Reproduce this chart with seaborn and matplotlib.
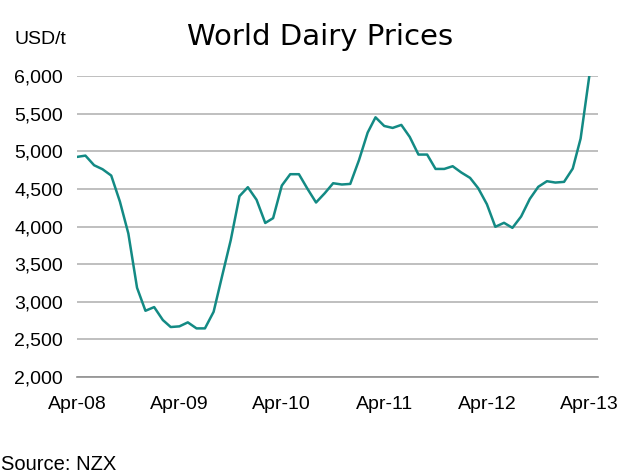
import pandas as pd
import matplotlib
matplotlib.use("Agg")
import matplotlib.pyplot as plt
import matplotlib.dates as mdates
import seaborn as sns

# Monthly prices, Apr-08 .. Apr-13 (USD/t)
months = pd.date_range("2008-04-01", periods=61, freq="MS")
prices = [
    4925, 4942, 4814, 4761, 4677, 4330, 3907, 3186, 2880, 2929, 2757, 2664,
    2673, 2726, 2646, 2646, 2867, 3354, 3819, 4403, 4522, 4355, 4047, 4111,
    4544, 4695, 4695, 4504, 4319, 4442, 4575, 4558, 4566, 4881, 5248, 5451,
    5336, 5310, 5350, 5190, 4956, 4956, 4765, 4765, 4801, 4717, 4646, 4509,
    4296, 3996, 4049, 3982, 4133, 4367, 4527, 4602, 4584, 4593, 4770, 5168,
    6000,
]
tick_years = [2008, 2009, 2010, 2011, 2012, 2013]

df = pd.DataFrame({"month": months, "price": prices})

sns.set_style("white")
plt.rcParams["font.family"] = ["Liberation Sans", "DejaVu Sans"]
plt.rcParams["text.color"] = "black"
plt.rcParams["xtick.color"] = "black"
plt.rcParams["ytick.color"] = "black"

fig = plt.figure(figsize=(6.2, 4.72), dpi=100)
ax = fig.add_axes([77 / 620, 1 - 377 / 472, (598 - 77) / 620, (377 - 76) / 472])

sns.lineplot(data=df, x="month", y="price", ax=ax, color="#138a84", linewidth=1.8)

ax.set_ylim(2000, 6000)
ax.set_yticks(range(2000, 6001, 500))
ax.yaxis.set_major_formatter(matplotlib.ticker.FuncFormatter(lambda v, p: f"{int(v):,}"))
ax.grid(axis="y", color="#b4b4b4", linewidth=1.2)
ax.set_axisbelow(True)

ticks = [pd.Timestamp(f"{y}-04-01") for y in tick_years]
ax.set_xticks(ticks)
ax.xaxis.set_major_formatter(mdates.DateFormatter("%b-%y"))
ax.set_xlim(pd.Timestamp("2008-04-01"), pd.Timestamp("2013-05-02"))

for s in ["top", "right", "left"]:
    ax.spines[s].set_visible(False)
ax.spines["bottom"].set_color("#909090")
ax.spines["bottom"].set_linewidth(1.2)

ax.tick_params(axis="x", length=4, width=1, color="#303030", direction="out", pad=10, labelsize=14)
ax.tick_params(axis="y", length=0, pad=10, labelsize=14)
ax.set_xlabel("")
ax.set_ylabel("")

fig.text(320 / 620, 1 - 37 / 472, "World Dairy Prices", ha="center", va="center",
         fontsize=21, family="DejaVu Sans")
fig.text(14 / 620, 1 - 39 / 472, "USD/t", ha="left", va="center", fontsize=14)
fig.text(1 / 620, 1 - 464 / 472, "Source: NZX", ha="left", va="center", fontsize=14.5)

fig.savefig("out.png", dpi=100)
